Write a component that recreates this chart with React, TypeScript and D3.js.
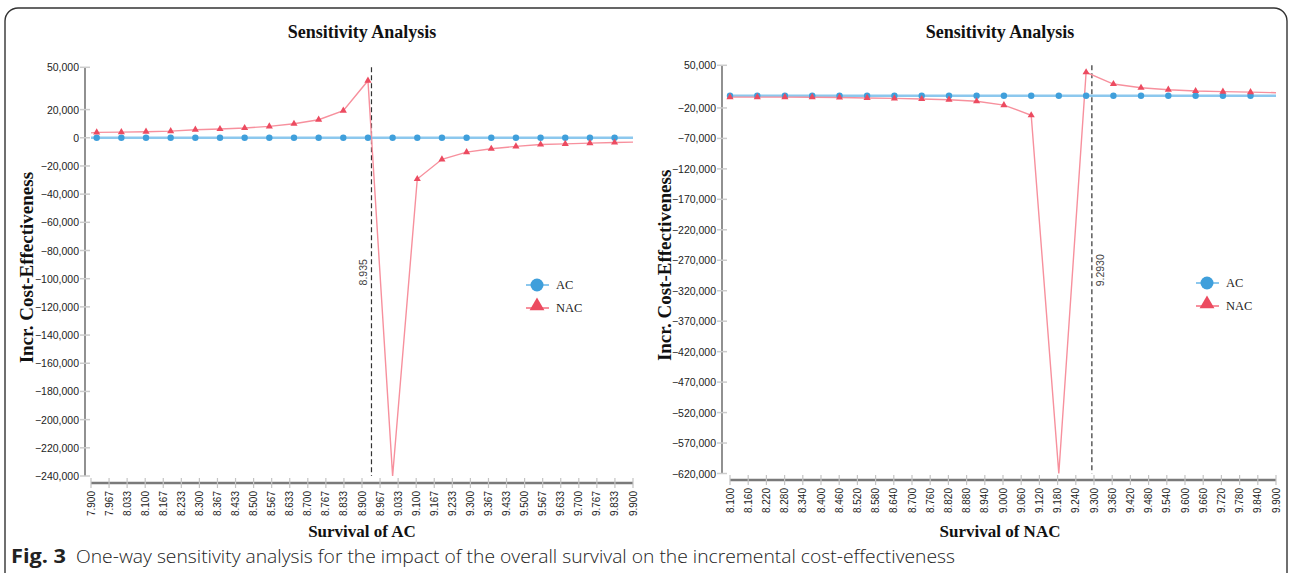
import React from "react";
import * as d3 from "d3";

// ---- data ----
const leftTickLabels = [
  "7.900", "7.967", "8.033", "8.100", "8.167", "8.233", "8.300", "8.367", "8.433", "8.500", "8.567",
  "8.633", "8.700", "8.767", "8.833", "8.900", "8.967", "9.033", "9.100", "9.167", "9.233", "9.300",
  "9.367", "9.433", "9.500", "9.567", "9.633", "9.700", "9.767", "9.833", "9.900",
];
const rightTickLabels = [
  "8.100", "8.160", "8.220", "8.280", "8.340", "8.400", "8.460", "8.520", "8.580", "8.640", "8.700",
  "8.760", "8.820", "8.880", "8.940", "9.000", "9.060", "9.120", "9.180", "9.240", "9.300", "9.360",
  "9.420", "9.480", "9.540", "9.600", "9.660", "9.720", "9.780", "9.840", "9.900",
];
const leftYTicks = [50000, 20000, 0, -20000, -40000, -60000, -80000, -100000, -120000, -140000,
  -160000, -180000, -200000, -220000, -240000];
const rightYTicks = [50000, -20000, -70000, -120000, -170000, -220000, -270000, -320000, -370000,
  -420000, -470000, -520000, -570000, -620000];

// survival of AC (x) with the two strategies
const leftSurvival = [7.900, 7.921, 8.012, 8.103, 8.194, 8.285, 8.376, 8.467, 8.558, 8.649, 8.740, 8.831,
  8.922, 9.013, 9.104, 9.195, 9.286, 9.377, 9.468, 9.559, 9.650, 9.741, 9.832, 9.900];
const leftAC = [0, 0, 0, 0, 0, 0, 0, 0, 0, 0, 0, 0, 0, 0, 0, 0, 0, 0, 0, 0, 0, 0, 0, 0];
const leftNAC = [3500, 3800, 4000, 4300, 4700, 5700, 6200, 6900, 8100, 9900, 12800, 19200,
  40500, -240000, -29300, -15300, -10200, -7800, -6100, -4800, -4300, -3800, -3400, -3100];

// survival of NAC (x)
const rightSurvival = [8.100, 8.190, 8.281, 8.371, 8.461, 8.552, 8.642, 8.732, 8.822, 8.913, 9.003,
  9.093, 9.184, 9.274, 9.364, 9.455, 9.545, 9.635, 9.725, 9.816, 9.900];
const rightAC = [0, 0, 0, 0, 0, 0, 0, 0, 0, 0, 0, 0, 0, 0, 0, 0, 0, 0, 0, 0, 0];
const rightNAC = [-2200, -2200, -2300, -2400, -2800, -3600, -4300, -5300, -6500, -9000, -15300,
  -32000, -620000, 38500, 19200, 13100, 9900, 7800, 6800, 6000, 5000];

const thresholds = [8.935, 9.293];
const thresholdLabels = ["8.935", "9.2930"];
const seriesNames = ["AC", "NAC"];
const xTitles = ["Survival of AC", "Survival of NAC"];

const AC_LINE = "#8cc8ee";
const AC_DOT = "#3f9fdb";
const NAC_LINE = "#f7909d";
const NAC_DOT = "#ec4b60";
const SERIF = "'Liberation Serif', 'Times New Roman', serif";
const SANS = "'Liberation Sans', Arial, sans-serif";

type PanelProps = {
  xs: number[];
  ac: number[];
  nac: number[];
  labels: string[];
  yTicks: number[];
  threshold: number;
  thresholdLabel: string;
  xTitle: string;
  yAxisX: number;
  xRange: [number, number];
  yRange: [number, number];
  xAxisY: number;
  titleX: number;
  yTitleX: number;
  legendX: number;
  legendY: number;
  labelSide: number;
  marked: (i: number, n: number) => boolean;
};

const fmt = d3.format(",");

function Panel(p: PanelProps) {
  const x = d3.scaleLinear().domain([+p.labels[0], +p.labels[p.labels.length - 1]]).range(p.xRange);
  const tickX = d3.scalePoint<string>().domain(p.labels).range(p.xRange);
  const y = d3
    .scaleLinear()
    .domain([p.yTicks[p.yTicks.length - 1], p.yTicks[0]])
    .range(p.yRange);

  const line = d3
    .line<number>()
    .x((_, i) => x(p.xs[i]))
    .y((d) => y(d));

  const tri = d3.symbol().type(d3.symbolTriangle).size(22)();
  const triBig = d3.symbol().type(d3.symbolTriangle).size(95)();
  const n = p.xs.length;
  const [yTop, yBot] = [p.yRange[1], p.yRange[0]];
  const tx = x(p.threshold);

  return (
    <g>
      <text x={p.titleX} y={38} textAnchor="middle" fontFamily={SERIF} fontWeight="bold" fontSize={18} fill="#111">
        Sensitivity Analysis
      </text>

      {/* y axis */}
      <line x1={p.yAxisX} x2={p.yAxisX} y1={yTop} y2={yBot} stroke="#555" strokeWidth={1.3} />
      {p.yTicks.map((t) => (
        <g key={t}>
          <line x1={p.yAxisX - 5} x2={p.yAxisX + 5} y1={y(t)} y2={y(t)} stroke="#ccc" strokeWidth={1.5} />
          <text x={p.yAxisX - 6} y={y(t) + 4} textAnchor="end" fontFamily={SANS} fontSize={10.5} fill="#222">
            {fmt(t)}
          </text>
        </g>
      ))}
      <text
        transform={`translate(${p.yTitleX},${(yTop + yBot) / 2 - 4}) rotate(-90)`}
        textAnchor="middle"
        fontFamily={SERIF}
        fontWeight="bold"
        fontSize={19}
        fill="#111"
      >
        Incr. Cost-Effectiveness
      </text>

      {/* x axis */}
      <line x1={p.xRange[0]} x2={p.xRange[1]} y1={p.xAxisY} y2={p.xAxisY} stroke="#7a7a7a" strokeWidth={2.5} />
      {p.labels.map((l) => (
        <g key={l}>
          <line x1={tickX(l)} x2={tickX(l)} y1={p.xAxisY - 5} y2={p.xAxisY + 5} stroke="#c4c4c4" strokeWidth={1.2} />
          <text
            transform={`translate(${(tickX(l) as number) + 3.5},${p.xAxisY + 8}) rotate(-90)`}
            textAnchor="end"
            fontFamily={SANS}
            fontSize={10}
            fill="#222"
          >
            {l}
          </text>
        </g>
      ))}
      <text x={p.titleX} y={537} textAnchor="middle" fontFamily={SERIF} fontWeight="bold" fontSize={17} fill="#111">
        {p.xTitle}
      </text>

      {/* threshold */}
      <line x1={tx} x2={tx} y1={yTop} y2={yBot} stroke="#333" strokeWidth={1.2} strokeDasharray="5,3" />
      <text
        transform={`translate(${tx + p.labelSide},${yTop + 205}) rotate(-90)`}
        textAnchor="middle"
        fontFamily={SANS}
        fontSize={10.5}
        fill="#444"
      >
        {p.thresholdLabel}
      </text>

      {/* series */}
      <path d={line(p.ac) || ""} fill="none" stroke={AC_LINE} strokeWidth={2.5} />
      <path d={line(p.nac) || ""} fill="none" stroke={NAC_LINE} strokeWidth={1.4} />
      {p.ac.map((v, i) =>
        p.marked(i, n) ? <circle key={"a" + i} cx={x(p.xs[i])} cy={y(v)} r={3.2} fill={AC_DOT} /> : null
      )}
      {p.nac.map((v, i) =>
        p.marked(i, n) && v > p.yTicks[p.yTicks.length - 1] ? (
          <path key={"n" + i} d={tri || ""} transform={`translate(${x(p.xs[i])},${y(v)})`} fill={NAC_DOT} />
        ) : null
      )}

      {/* legend */}
      <line x1={p.legendX - 11} x2={p.legendX + 12} y1={p.legendY} y2={p.legendY} stroke={AC_LINE} strokeWidth={2} />
      <circle cx={p.legendX} cy={p.legendY} r={6.5} fill={AC_DOT} />
      <text x={p.legendX + 19} y={p.legendY + 4} fontFamily={SERIF} fontSize={12.5} fill="#222">
        {seriesNames[0]}
      </text>
      <line x1={p.legendX - 11} x2={p.legendX + 12} y1={p.legendY + 23} y2={p.legendY + 23} stroke={NAC_LINE} strokeWidth={2} />
      <path d={triBig || ""} transform={`translate(${p.legendX},${p.legendY + 21})`} fill={NAC_DOT} />
      <text x={p.legendX + 19} y={p.legendY + 27} fontFamily={SERIF} fontSize={12.5} fill="#222">
        {seriesNames[1]}
      </text>
    </g>
  );
}

export default function App() {
  return (
    <svg
      width={1290}
      height={573}
      style={{ position: "absolute", left: 0, top: 0, background: "#fff" }}
    >
      <rect x={5} y={8} width={1282} height={600} rx={13} fill="none" stroke="#333" strokeWidth={1.4} />
      <Panel
        xs={leftSurvival}
        ac={leftAC}
        nac={leftNAC}
        labels={leftTickLabels}
        yTicks={leftYTicks}
        threshold={thresholds[0]}
        thresholdLabel={thresholdLabels[0]}
        xTitle={xTitles[0]}
        yAxisX={85}
        xRange={[91, 633]}
        yRange={[476, 67.3]}
        xAxisY={483}
        titleX={362}
        yTitleX={33}
        legendX={537}
        legendY={285}
        labelSide={-4}
        marked={(i, n) => i > 0 && i < n - 1}
      />
      <Panel
        xs={rightSurvival}
        ac={rightAC}
        nac={rightNAC}
        labels={rightTickLabels}
        yTicks={rightYTicks}
        threshold={thresholds[1]}
        thresholdLabel={thresholdLabels[1]}
        xTitle={xTitles[1]}
        yAxisX={722}
        xRange={[730, 1276]}
        yRange={[473.5, 65.3]}
        xAxisY={480}
        titleX={1000}
        yTitleX={671}
        legendX={1207}
        legendY={283}
        labelSide={12}
        marked={(i, n) => i < n - 1}
      />
      <text x={11} y={563} fontFamily="'Open Sans', 'Noto Sans', sans-serif" fontSize={19} fill="#222">
        <tspan fontWeight="bold" textLength={55} lengthAdjust="spacingAndGlyphs">Fig. 3</tspan>
        <tspan x={76} textLength={879} lengthAdjust="spacingAndGlyphs" fontWeight={300}>
          One-way sensitivity analysis for the impact of the overall survival on the incremental cost-effectiveness
        </tspan>
      </text>
    </svg>
  );
}
